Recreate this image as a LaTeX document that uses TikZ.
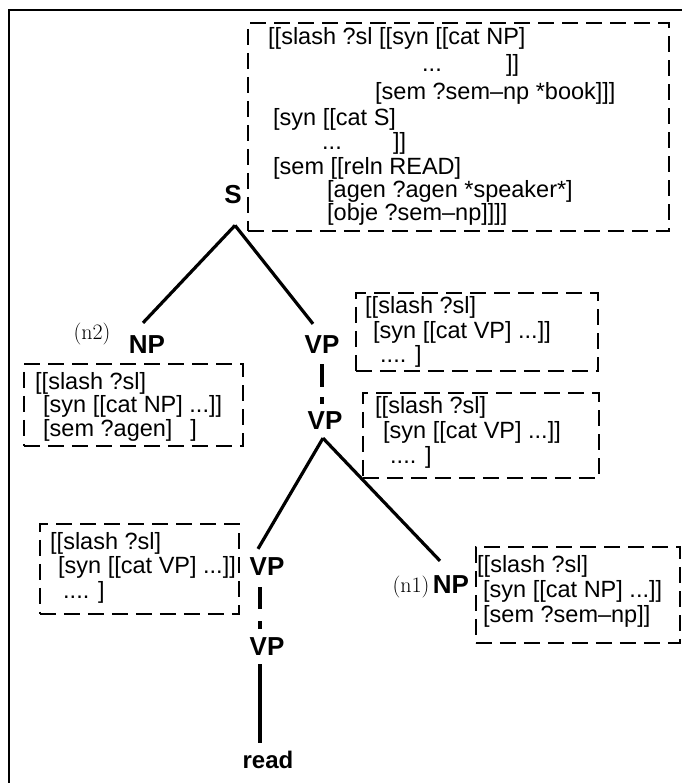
\documentclass[tikz,border=0pt]{standalone}
\usepackage{fontspec}
\newfontfamily\hv{Liberation Sans}
\begin{document}
\begin{tikzpicture}[x=1pt,y=-1pt,
  fs/.style={anchor=base west, inner sep=0pt, font=\hv\fontsize{23.5}{25}\selectfont},
  lab/.style={inner sep=0pt, font=\hv\bfseries\fontsize{26}{28}\selectfont},
  rlab/.style={inner sep=0pt, font=\hv\bfseries\fontsize{24}{26}\selectfont},
  nlab/.style={inner sep=0pt, font=\fontsize{22}{24}\selectfont},
  fbox/.style={draw, anchor=north west, inner sep=0pt, dash pattern=on 16pt off 8pt, line width=1.6pt},
  edge/.style={line width=3.2pt},
  dedge/.style={line width=3.2pt, dash pattern=on 23pt off 10pt},
  dedgeb/.style={line width=3.2pt, dash pattern=on 22pt off 12pt},
  frame/.style={line width=1.8pt}]
\useasboundingbox (0,0) rectangle (682,783);

% outer frame
\coordinate (fTL) at (9,10);
\coordinate (fTR) at (682,10);
\coordinate (fBL) at (9,783);
\draw[frame] (fBL) -- (fTL) -- (fTR);

% boxes
\node[fbox, minimum width=421pt, minimum height=208pt] (b0) at (247,22) {};
\node[fbox, minimum width=219pt, minimum height=82pt] (bN2) at (23,363) {};
\node[fbox, minimum width=242pt, minimum height=78pt] (bV1) at (355,292) {};
\node[fbox, minimum width=236pt, minimum height=85pt] (bV2) at (362,392) {};
\node[fbox, minimum width=199pt, minimum height=90pt] (bV3) at (39,523) {};
\node[fbox, minimum width=204pt, minimum height=96pt] (bN1) at (475,546) {};

% top box text
\node[fs] (t1) at (268,45) {[[slash ?sl [[syn [[cat NP]};
\node[fs] (t2a) at (422,72) {...};
\node[fs] (t2b) at (506,72) {]]};
\node[fs] (t3) at (375,100) {[sem ?sem–np *book]]]};
\node[fs] (t4) at (273,126) {[syn [[cat S]};
\node[fs] (t5a) at (322,150) {...};
\node[fs] (t5b) at (393,150) {]]};
\node[fs] (t6) at (273,175) {[sem [[reln READ]};
\node[fs] (t7) at (327,198) {[agen ?agen *speaker*]};
\node[fs] (t8) at (327,221) {[obje ?sem–np]]]]};

% NP (n2) box text
\node[fs] (a1) at (35,389) {[[slash ?sl]};
\node[fs] (a2) at (43,412) {[syn [[cat NP] ...]]};
\node[fs] (a3) at (43,436) {[sem ?agen]\hspace{18pt}]};

% VP1 box text
\node[fs] (c1) at (365,313) {[[slash ?sl]};
\node[fs] (c2) at (373,338) {[syn [[cat VP] ...]]};
\node[fs] (c3) at (380,362) {.... ]};

% VP2 box text
\node[fs] (d1) at (375,413) {[[slash ?sl]};
\node[fs] (d2) at (383,438) {[syn [[cat VP] ...]]};
\node[fs] (d3) at (390,463) {.... ]};

% VP3 box text
\node[fs] (e1) at (50,549) {[[slash ?sl]};
\node[fs] (e2) at (58,573) {[syn [[cat VP] ...]]};
\node[fs] (e3) at (63,598) {.... ]};

% NP (n1) box text
\node[fs] (f1) at (477,572) {[[slash ?sl]};
\node[fs] (f2) at (483,597) {[syn [[cat NP] ...]]};
\node[fs] (f3) at (483,622) {[sem ?sem–np]]};

% tree labels
\node[lab] (S) at (233,195) {S};
\node[lab] (NP2) at (147,345) {NP};
\node[nlab] (n2) at (92,334) {(n2)};
\node[lab] (VP1) at (322,345) {VP};
\node[lab] (VP2) at (325,421) {VP};
\node[lab] (VP3) at (267,567) {VP};
\node[lab] (VP4) at (267,647) {VP};
\node[lab] (NP1) at (451,585) {NP};
\node[nlab] (n1) at (411,587) {(n1)};
\node[rlab] (read) at (268,760) {read};

% connectors
\draw[edge] ([xshift=2pt,yshift=-21pt]S.south) -- ([xshift=-4pt,yshift=13pt]NP2.north);
\draw[edge] ([xshift=2pt,yshift=-21pt]S.south) -- ([xshift=-9pt,yshift=12pt]VP1.north);
\draw[dedge] ([yshift=-10pt]VP1.south) -- ([xshift=-3pt,yshift=8pt]VP2.north);
\draw[edge] ([xshift=-2pt,yshift=-8pt]VP2.south) -- ([xshift=-9pt,yshift=9pt]VP3.north);
\draw[edge] ([xshift=-2pt,yshift=-8pt]VP2.south) -- ([xshift=-11pt,yshift=15pt]NP1.north);
\draw[dedgeb] ([xshift=-7pt,yshift=-11pt]VP3.south) -- ([xshift=-7pt,yshift=9pt]VP4.north);
\draw[edge] ([xshift=-7pt,yshift=-8pt]VP4.south) -- ([xshift=-8pt,yshift=8pt]read.north);
\end{tikzpicture}
\end{document}
